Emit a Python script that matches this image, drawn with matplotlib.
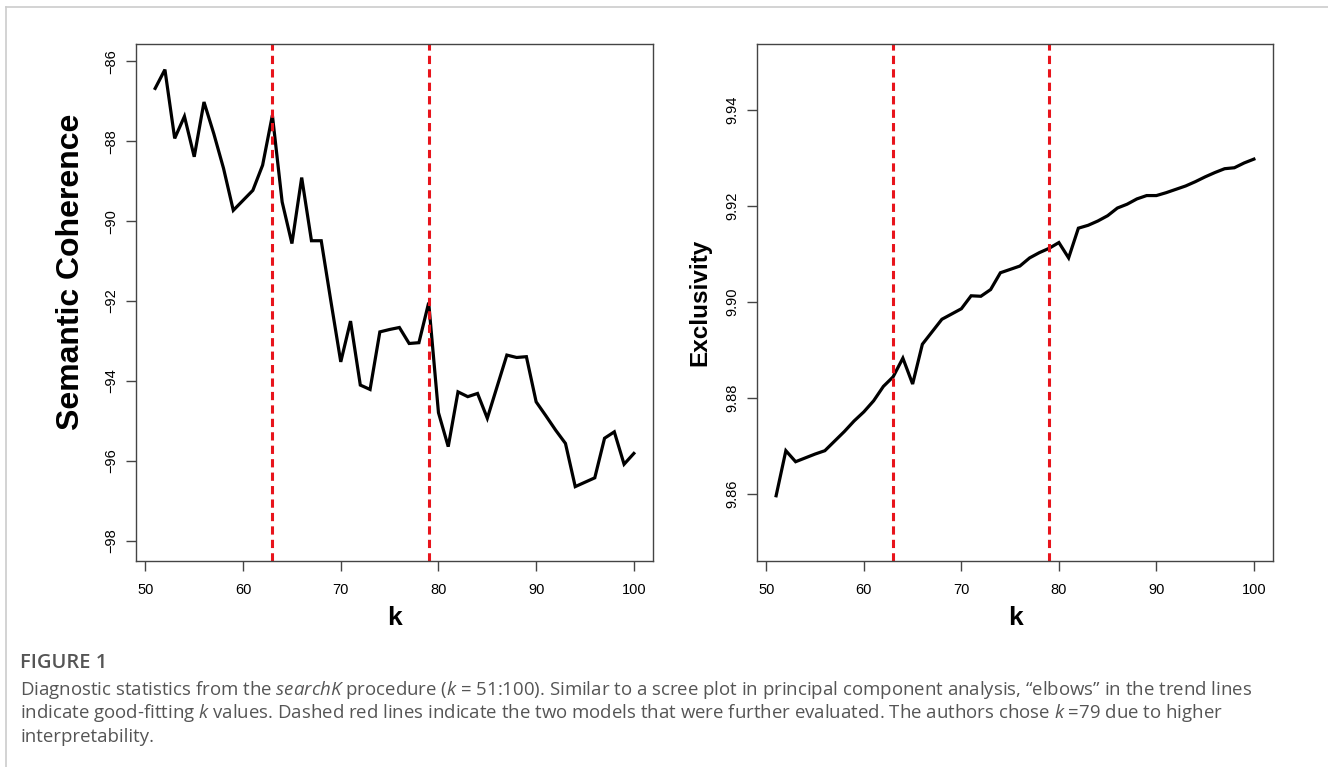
import matplotlib
matplotlib.use("Agg")
import matplotlib.pyplot as plt
import numpy as np
from matplotlib.lines import Line2D

# searchK diagnostics, k = 51:100
k = np.arange(51, 101)

coherence = [
    -86.68, -86.21, -87.93, -87.38, -88.39, -87.02, -87.81, -88.68, -89.73, -89.48,  # 51-60
    -89.23, -88.60, -87.35, -89.52, -90.56, -88.91, -90.49, -90.49, -92.02, -93.52,  # 61-70
    -92.50, -94.10, -94.21, -92.77, -92.71, -92.66, -93.06, -93.04, -92.04, -94.79,  # 71-80
    -95.64, -94.27, -94.39, -94.31, -94.93, -94.14, -93.35, -93.41, -93.39, -94.52,  # 81-90
    -94.87, -95.23, -95.56, -96.64, -96.53, -96.42, -95.43, -95.27, -96.08, -95.81,  # 91-100
]

exclusivity = [
    9.8596, 9.8690, 9.8667, 9.8675, 9.8683, 9.8690, 9.8710, 9.8730, 9.8752, 9.8771,
    9.8794, 9.8824, 9.8844, 9.8883, 9.8829, 9.8912, 9.8938, 9.8964, 9.8975, 9.8986,
    9.9013, 9.9012, 9.9026, 9.9061, 9.9068, 9.9075, 9.9092, 9.9103, 9.9112, 9.9124,
    9.9092, 9.9154, 9.9160, 9.9169, 9.9180, 9.9196, 9.9204, 9.9215, 9.9222, 9.9222,
    9.9228, 9.9235, 9.9242, 9.9251, 9.9261, 9.9270, 9.9278, 9.9280, 9.9290, 9.9298,
]

chosen_k = [63, 79]

coh_ticks = [-98, -96, -94, -92, -90, -88, -86]
exc_ticks = [9.86, 9.88, 9.90, 9.92, 9.94]
k_ticks = [50, 60, 70, 80, 90, 100]

caption_title = "FIGURE 1"
caption_lines = [
    "Diagnostic statistics from the $\\it{searchK}$ procedure ($\\it{k}$ = 51:100). Similar to a scree plot "
    "in principal component analysis, \u201celbows\u201d in the trend lines",
    "indicate good-fitting $\\it{k}$ values. Dashed red lines indicate the two models that were further "
    "evaluated. The authors chose $\\it{k}$ =79 due to higher",
    "interpretability.",
]

plt.rcParams['font.family'] = ['Liberation Sans', 'DejaVu Sans']
plt.rcParams['axes.unicode_minus'] = True
plt.rcParams['mathtext.fontset'] = 'custom'
plt.rcParams['mathtext.it'] = 'Open Sans:italic'
plt.rcParams['mathtext.rm'] = 'Open Sans'

fig = plt.figure(figsize=(13.28, 7.67), dpi=100)

ax1 = fig.add_axes([136 / 1328, 0.2686, 517 / 1328, 0.674])
ax2 = fig.add_axes([757 / 1328, 0.2686, 516 / 1328, 0.674])

red = '#e8141c'
dash = (0, (2.7, 1.7))


def style_axis(ax, yticks, ylabel, fmt, ysize):
    for s in ax.spines.values():
        s.set_color('#444444')
        s.set_linewidth(1.0)
    ax.set_xlim(49.04, 101.96)
    ax.set_xticks(k_ticks)
    ax.set_yticks(yticks)
    ax.set_yticklabels([fmt(v) for v in yticks], rotation=90, va='center')
    ax.tick_params(direction='out', length=7, width=1.0, color='#444444',
                   labelsize=10.5, pad=6)
    ax.tick_params(axis='x', pad=9)
    ax.set_xlabel('k', fontsize=19, fontweight='bold', labelpad=6)
    ax.set_ylabel(ylabel, fontsize=ysize, fontweight='bold', labelpad=10)


# left: semantic coherence
ax1.plot(k, coherence, color='black', lw=2.3, solid_joinstyle='miter')
for kk in chosen_k:
    ax1.axvline(kk, color=red, lw=2.2, ls=dash)
ax1.set_ylim(-98.5, -85.57)
style_axis(ax1, coh_ticks, 'Semantic Coherence', lambda v: '\u2212%d' % abs(v), 23)
ax1.yaxis.set_label_coords(-0.097, 0.56)

# right: exclusivity
ax2.plot(k, exclusivity, color='black', lw=2.3, solid_joinstyle='miter')
for kk in chosen_k:
    ax2.axvline(kk, color=red, lw=2.2, ls=dash)
ax2.set_ylim(9.846, 9.9538)
style_axis(ax2, exc_ticks, 'Exclusivity', lambda v: '%.2f' % v, 17.5)

# light frame around the figure (top and left edges)
fig.add_artist(Line2D([6 / 1328, 1], [1 - 7 / 767, 1 - 7 / 767], color='#cccccc', lw=1.2))
fig.add_artist(Line2D([6 / 1328, 6 / 1328], [0, 1 - 7 / 767], color='#cccccc', lw=1.2))

# caption
fig.text(20 / 1328, 1 - 663 / 767, caption_title, fontsize=14.5, color='#555555',
         family=['Open Sans', 'DejaVu Sans'], fontweight='semibold', va='center')
for i, line in enumerate(caption_lines):
    fig.text(20 / 1328, 1 - (690 + 23.5 * i) / 767, line, fontsize=13.4, color='#555555',
             family=['Open Sans', 'DejaVu Sans'], va='center')

fig.savefig('out.png', dpi=100)
